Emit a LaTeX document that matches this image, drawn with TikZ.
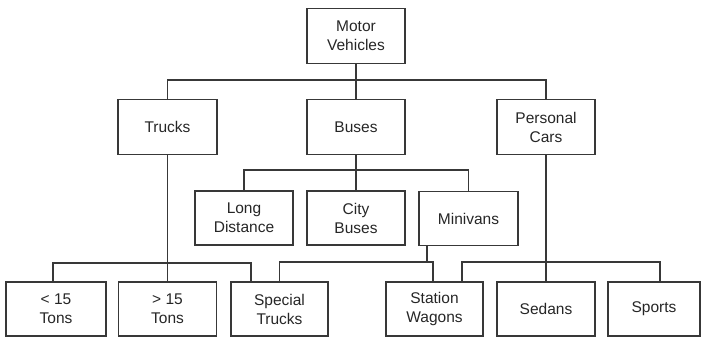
\documentclass[tikz,border=0pt]{standalone}
\usepackage{fontspec}
\setmainfont{Liberation Sans}
\begin{document}
\begin{tikzpicture}[x=1pt,y=-1pt,
  box/.style={draw=black!78,line width=1.4pt,rectangle,inner sep=0pt,
    minimum height=55pt,align=center,text=black!85,
    font=\fontsize{15.5}{19}\selectfont},
  conn/.style={draw=black!78,line width=1.4pt}]
\useasboundingbox (0,0) rectangle (701,338);
\node[box,minimum width=98pt] (mv) at (356,36) {Motor\\Vehicles};
\node[box,minimum width=99pt] (trucks) at (167.5,127) {Trucks};
\node[box,minimum width=98pt] (buses) at (356,127) {Buses};
\node[box,minimum width=98pt] (pc) at (546,127) {Personal\\Cars};
\node[box,minimum width=98pt,minimum height=54pt] (ld) at (244,218) {Long\\Distance};
\node[box,minimum width=98pt,minimum height=54pt] (cb) at (356,218) {City\\Buses};
\node[box,minimum width=99pt,minimum height=54pt] (mini) at (468.5,218.5) {Minivans};
\node[box,minimum width=100pt,minimum height=54pt] (lt) at (56,309) {< 15\\Tons};
\node[box,minimum width=98pt,minimum height=54pt] (gt) at (167.5,309) {> 15\\Tons};
\node[box,minimum width=97pt,minimum height=54pt] (st) at (279.5,309) {Special\\Trucks};
\node[box,minimum width=97pt,minimum height=54pt] (sw) at (434.5,309) {Station\\Wagons};
\node[box,minimum width=98pt,minimum height=54pt] (sed) at (546,309) {Sedans};
\node[box,minimum width=92pt,minimum height=54pt] (sp) at (654,309) {Sports};
\coordinate (r1) at (0,80);
\coordinate (r2) at (0,170);
\coordinate (r3) at (0,263);
\coordinate (r4) at (0,262);
\draw[conn] (mv.south) -- (buses.north);
\draw[conn] (trucks.north) -- (trucks.north |- r1) -- (pc.north |- r1) -- (pc.north);
\draw[conn] (buses.south) -- (cb.north);
\draw[conn] (ld.north) -- (ld.north |- r2) -- (mini.north |- r2) -- (mini.north);
\draw[conn] (trucks.south) -- (gt.north);
\draw[conn] ([xshift=-3pt]lt.north) -- ([xshift=-3pt]lt.north |- r3) -- ([xshift=-28.5pt]st.north |- r3) -- ([xshift=-28.5pt]st.north);
\draw[conn] (st.north) -- (st.north |- r4) -- ([xshift=-1.5pt]sw.north |- r4) -- ([xshift=-1.5pt]sw.north);
\draw[conn] ([xshift=-41.5pt]mini.south) -- ([xshift=-41.5pt]mini.south |- r4);
\draw[conn] ([xshift=27.5pt]sw.north) -- ([xshift=27.5pt]sw.north |- r4) -- ([xshift=6pt]sp.north |- r4) -- ([xshift=6pt]sp.north);
\draw[conn] (pc.south) -- (sed.north);
\end{tikzpicture}
\end{document}
